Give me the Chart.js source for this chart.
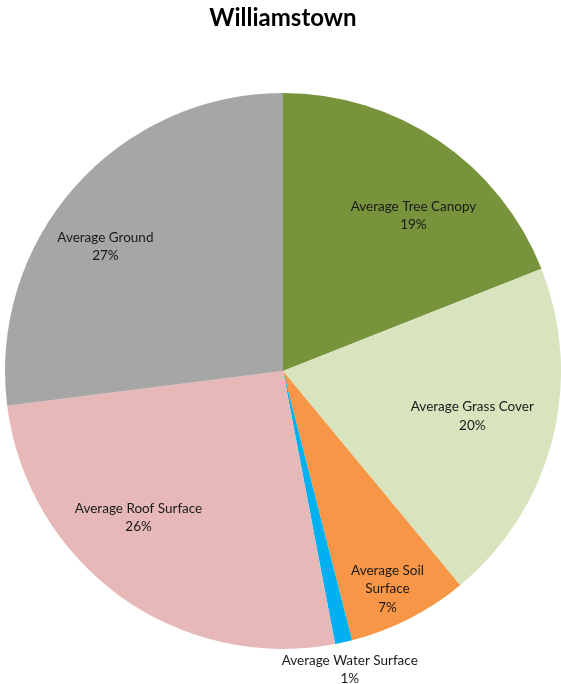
<!DOCTYPE html>
<html>
<head>
<meta charset="utf-8">
<script src="https://cdn.jsdelivr.net/npm/chart.js@4.4.1/dist/chart.umd.min.js"></script>
<style>
  html, body { margin: 0; padding: 0; background: #fff; }
  #wrap { width: 561px; height: 684px; position: relative; }
</style>
</head>
<body>
<div id="wrap"><canvas id="pie"></canvas></div>
<script>
// land cover shares, clockwise from 12 o'clock
const categories = ['Average Tree Canopy', 'Average Grass Cover', 'Average Soil Surface',
  'Average Water Surface', 'Average Roof Surface', 'Average Ground'];
const shares = [19, 20, 7, 1, 26, 27];
const sliceColors = ['#77933C', '#D7E4BD', '#F79646', '#00B0F0', '#E6B9B8', '#A6A6A6'];

// text lines per label (soil wraps in two)
const labelLines = [
  ['Average Tree Canopy'],
  ['Average Grass Cover'],
  ['Average Soil', 'Surface'],
  ['Average Water Surface'],
  ['Average Roof Surface'],
  ['Average Ground']
];
// label placement: fraction of radius, angle nudge in degrees
const labelRadius = [0.73, 0.70, 0.87, 1.10, 0.74, 0.78];
const labelNudge = [5.8, -1, 1.4, 0, 8.6, -6.4];

const FONT = 'Lato, "Open Sans", sans-serif';

const sliceLabels = {
  id: 'sliceLabels',
  afterDatasetsDraw(chart) {
    const ctx = chart.ctx;
    const meta = chart.getDatasetMeta(0);
    ctx.save();
    ctx.font = '13.5px ' + FONT;
    ctx.fillStyle = '#1a1a1a';
    ctx.textAlign = 'center';
    ctx.textBaseline = 'middle';
    const lh = 18.5;
    meta.data.forEach((arc, i) => {
      const p = arc.getProps(['x', 'y', 'startAngle', 'endAngle', 'outerRadius'], true);
      const a = (p.startAngle + p.endAngle) / 2 + labelNudge[i] * Math.PI / 180;
      const r = p.outerRadius * labelRadius[i];
      const cx = p.x + Math.cos(a) * r;
      const cy = p.y + Math.sin(a) * r;
      const lines = labelLines[i].concat([shares[i] + '%']);
      const top = cy - (lines.length - 1) * lh / 2;
      lines.forEach((t, k) => ctx.fillText(t, cx, top + k * lh));
    });
    ctx.restore();
  }
};

new Chart(document.getElementById('pie'), {
  type: 'pie',
  data: {
    labels: categories,
    datasets: [{
      data: shares,
      backgroundColor: sliceColors,
      borderWidth: 0
    }]
  },
  options: {
    responsive: true,
    maintainAspectRatio: false,
    animation: false,
    layout: { padding: { top: 0, bottom: 35, left: 5, right: 0 } },
    plugins: {
      legend: { display: false },
      tooltip: { enabled: false },
      title: {
        display: true,
        text: 'Williamstown',
        color: '#000',
        font: { family: FONT, size: 24, weight: 'bold', lineHeight: 1.2 },
        padding: { top: 4, bottom: 60.2 }
      }
    }
  },
  plugins: [sliceLabels]
});
</script>
</body>
</html>
